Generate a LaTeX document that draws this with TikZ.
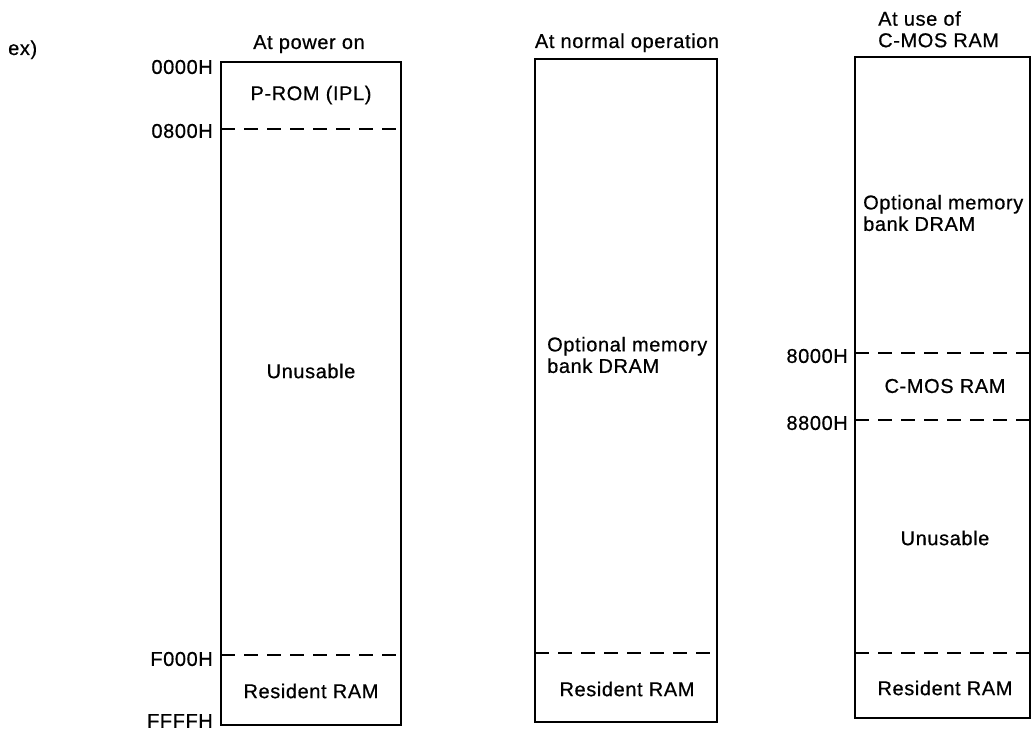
\documentclass[tikz,border=0pt]{standalone}
\usepackage{fontspec}
\setmainfont[LetterSpace=3,FakeBold=0.6]{Liberation Sans}
\begin{document}
\begin{tikzpicture}[x=1pt,y=-1pt,
  every node/.style={font=\fontsize{20}{21.5}\selectfont, inner sep=0pt},
  memframe/.style={draw, line width=2.8pt},
  sepline/.style={draw, line width=1.5pt, dash pattern=on 14pt off 9pt},
  addr/.style={anchor=east},
  txt/.style={anchor=center},
  multi/.style={align=left, anchor=west}]
\useasboundingbox (0,0) rectangle (1032,733);

% ---------- titles ----------
\node[anchor=base west] (ex) at (8,55) {ex)};
\node[anchor=base] (t1) at (309,49) {At power on};
\node[anchor=base] (t2) at (627,48) {At normal operation};
\node[align=left, anchor=north west] (t3) at (878,11) {At use of\\C-MOS RAM};

% ---------- box 1: at power on ----------
\coordinate (b1tl) at (221,62);
\coordinate (b1br) at (401,725);
\draw[memframe] (b1tl) rectangle (b1br);
\coordinate (d1a) at (221,129); \coordinate (d1b) at (401,129);
\coordinate (d2a) at (221,655); \coordinate (d2b) at (401,655);
\draw[sepline] (d1a) -- (d1b);
\draw[sepline] (d2a) -- (d2b);
\node[addr] (a0000) at (213,67) {0000H};
\node[addr] (a0800) at (213,131) {0800H};
\node[addr] (af000) at (213,659) {F000H};
\node[addr] (affff) at (213,721) {FFFFH};
\node[txt] (prom) at (311,95) {P-ROM (IPL)};
\node[txt] (unus1) at (311,371) {Unusable};
\node[txt] (res1) at (311,691) {Resident RAM};

% ---------- box 2: at normal operation ----------
\coordinate (b2tl) at (535,59);
\coordinate (b2br) at (717,722);
\draw[memframe] (b2tl) rectangle (b2br);
\coordinate (d3a) at (535,653); \coordinate (d3b) at (717,653);
\draw[sepline] (d3a) -- (d3b);
\node[multi] (opt2) at (547,355) {Optional memory\\bank DRAM};
\node[txt] (res2) at (627,689) {Resident RAM};

% ---------- box 3: at use of C-MOS RAM ----------
\coordinate (b3tl) at (855,57);
\coordinate (b3br) at (1030,718);
\draw[memframe] (b3tl) rectangle (b3br);
\coordinate (d4a) at (855,353); \coordinate (d4b) at (1030,353);
\coordinate (d5a) at (855,420); \coordinate (d5b) at (1030,420);
\coordinate (d6a) at (855,653); \coordinate (d6b) at (1030,653);
\draw[sepline] (d4a) -- (d4b);
\draw[sepline] (d5a) -- (d5b);
\draw[sepline] (d6a) -- (d6b);
\node[addr] (a8000) at (848,356) {8000H};
\node[addr] (a8800) at (848,423) {8800H};
\node[multi] (opt3) at (863,213) {Optional memory\\bank DRAM};
\node[txt] (cmos) at (945,386) {C-MOS RAM};
\node[txt] (unus3) at (945,538) {Unusable};
\node[txt] (res3) at (945,688) {Resident RAM};
\end{tikzpicture}
\end{document}
